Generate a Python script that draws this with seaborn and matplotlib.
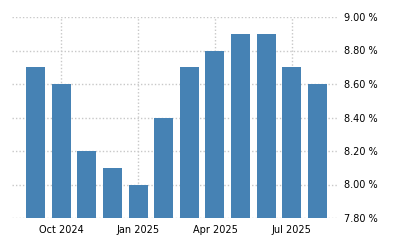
import matplotlib
matplotlib.use("Agg")
import matplotlib.pyplot as plt
import seaborn as sns
import pandas as pd

months = ["Sep 2024", "Oct 2024", "Nov 2024", "Dec 2024", "Jan 2025", "Feb 2025",
          "Mar 2025", "Apr 2025", "May 2025", "Jun 2025", "Jul 2025", "Aug 2025"]
values = [8.7, 8.6, 8.2, 8.1, 8.0, 8.4, 8.7, 8.8, 8.9, 8.9, 8.7, 8.6]
tick_months = ["Oct 2024", "Jan 2025", "Apr 2025", "Jul 2025"]
y_ticks = [7.8, 8.0, 8.2, 8.4, 8.6, 8.8, 9.0]

df = pd.DataFrame({"month": months, "value": values})

sns.set_style("white")
plt.rcParams['font.family'] = ['DejaVu Sans']

fig = plt.figure(figsize=(4, 2.5), dpi=100)
ax = fig.add_axes([0.03, 0.128, 0.815, 0.804])

sns.barplot(data=df, x="month", y="value", color="#4682B4", saturation=1,
            width=0.74, linewidth=0, edgecolor="none", ax=ax, zorder=3)

ax.set_ylim(7.8, 9.0)
ax.set_xlim(-0.92, 11.8)
ax.set_yticks(y_ticks)
ax.set_yticklabels([f"{v:.2f} %" for v in y_ticks])
ax.yaxis.tick_right()
ax.tick_params(axis="y", length=0, pad=4, labelsize=7, colors="#000000")

tick_pos = [months.index(m) for m in tick_months]
ax.set_xticks(tick_pos)
ax.set_xticklabels(tick_months)
ax.tick_params(axis="x", length=3, width=1, color="#cccccc", pad=2, labelsize=7,
               labelcolor="#000000")

ax.grid(True, axis="both", linestyle=(0, (1, 1.5)), color="#c8c8c8", linewidth=1, zorder=0)
ax.set_axisbelow(True)
for s in ax.spines.values():
    s.set_visible(False)
ax.set_xlabel("")
ax.set_ylabel("")

fig.savefig("out.png", dpi=100)
